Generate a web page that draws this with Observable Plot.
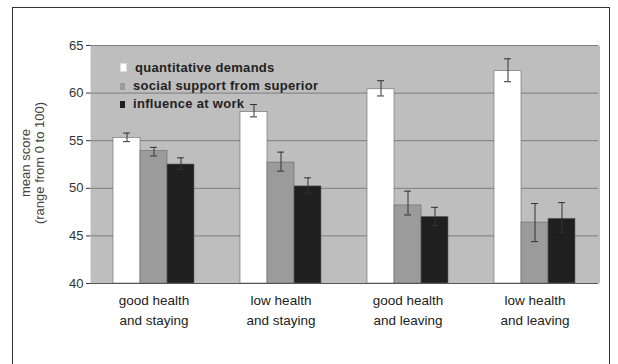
<!DOCTYPE html>
<html>
<head>
<meta charset="utf-8">
<script src="https://cdn.jsdelivr.net/npm/d3@7"></script>
<script src="https://cdn.jsdelivr.net/npm/@observablehq/plot@0.6"></script>
<style>
  body { margin: 0; background: #fff; font-family: "Liberation Sans", Arial, sans-serif; }
  #wrap { position: relative; width: 618px; height: 364px; overflow: hidden; }
  #border { position: absolute; left: 12px; top: 7px; width: 598px; height: 400px; border: 1.5px solid #333; box-sizing: border-box; pointer-events: none; }
  #ylabel { position: absolute; left: 33px; top: 163px; transform: translate(-50%, -50%) rotate(-90deg); white-space: nowrap; text-align: center; font-size: 13px; line-height: 14px; color: #444; }
  #legend { position: absolute; left: 120px; top: 59px; font-size: 13px; font-weight: bold; color: #222; line-height: 18px; letter-spacing: 0.3px; }
  #legend .sw { display: inline-block; width: 5px; height: 7px; margin-right: 8px; vertical-align: 0px; }
  #plot { position: absolute; left: 0; top: 0; }
</style>
</head>
<body>
<div id="wrap">
  <div id="plot"></div>
  <div id="border"></div>
  <div id="ylabel"></div>
  <div id="legend"></div>
</div>
<script>
const categories = ["good health\nand staying", "low health\nand staying", "good health\nand leaving", "low health\nand leaving"];
const series = ["quantitative demands", "social support from superior", "influence at work"];
const colors = ["#ffffff", "#9b9b9b", "#1f1f1f"];
const quantitativeDemands = [55.3, 58.0, 60.4, 62.3];
const quantitativeLow = [54.9, 57.5, 59.7, 61.2];
const quantitativeHigh = [55.8, 58.8, 61.3, 63.6];
const socialSupport = [53.9, 52.7, 48.2, 46.4];
const socialLow = [53.4, 51.8, 47.2, 44.4];
const socialHigh = [54.3, 53.8, 49.7, 48.4];
const influence = [52.5, 50.2, 47.0, 46.8];
const influenceLow = [52.0, 49.5, 46.1, 45.4];
const influenceHigh = [53.2, 51.1, 48.0, 48.5];
const yTicks = [40, 45, 50, 55, 60, 65];
const yLabelLines = ["mean score", "(range from 0 to 100)"];

const valueSets = [
  [quantitativeDemands, quantitativeLow, quantitativeHigh],
  [socialSupport, socialLow, socialHigh],
  [influence, influenceLow, influenceHigh]
];
const data = [];
categories.forEach((c, i) => {
  series.forEach((s, j) => {
    data.push({cat: c, series: s, value: valueSets[j][0][i], lo: valueSets[j][1][i], hi: valueSets[j][2][i]});
  });
});

const chart = Plot.plot({
  width: 618,
  height: 364,
  marginLeft: 89,
  marginRight: 20,
  marginTop: 45,
  marginBottom: 81,
  style: {fontFamily: "'Liberation Sans', Arial, sans-serif", fontSize: "13px", color: "#333", background: "transparent"},
  fx: {domain: categories, padding: 0, axis: null},
  x: {domain: series, paddingInner: 0, paddingOuter: 0.77, axis: null},
  y: {domain: [40, 65], ticks: yTicks, tickSize: 4, tickPadding: 3, label: null},
  color: {domain: series, range: colors},
  marks: [
    Plot.frame({fill: "#bebebe", insetRight: -1.5}),
    Plot.ruleY(yTicks.slice(1), {stroke: "#7d7d7d", strokeWidth: 1}),
    Plot.barY(data, {fx: "cat", x: "series", y1: 40, y2: "value", fill: "series", stroke: "#666", strokeWidth: 0.6}),
    Plot.ruleX(data, {fx: "cat", x: "series", y1: "lo", y2: "hi", stroke: "#333", strokeWidth: 1}),
    Plot.tickY(data, {fx: "cat", x: "series", y: "lo", stroke: "#333", insetLeft: 10, insetRight: 10}),
    Plot.tickY(data, {fx: "cat", x: "series", y: "hi", stroke: "#333", insetLeft: 10, insetRight: 10}),
    Plot.ruleY([40], {stroke: "#555", strokeWidth: 1.2}),
    Plot.text(categories, {fx: d => d, text: d => d, frameAnchor: "bottom", lineAnchor: "top", dy: 7, lineHeight: 1.5, fontSize: 13.5, fill: "#222"})
  ]
});
document.getElementById("plot").appendChild(chart);

document.getElementById("ylabel").innerHTML = yLabelLines.join("<br>");
document.getElementById("legend").innerHTML = series.map((s, i) =>
  `<div><span class="sw" style="background:${colors[i]};${i === 0 ? 'border:0.5px solid #ddd;' : ''}"></span>${s}</div>`
).join("");
</script>
</body>
</html>
